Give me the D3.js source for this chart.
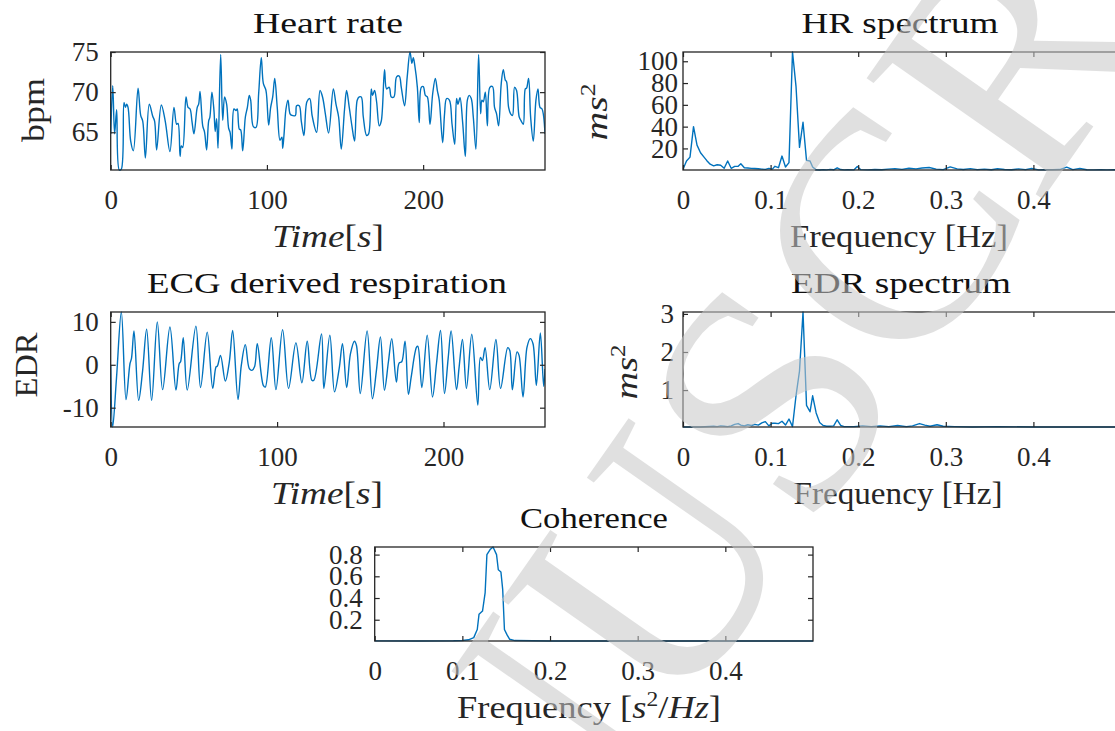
<!DOCTYPE html>
<html>
  <head>
    <meta charset="utf-8">
    <title>HR / EDR spectra</title>
    <script src="https://cdn.jsdelivr.net/npm/d3@7"></script>
    <style>
      body { margin: 0; background: #fff; }
      svg { display: block; font-family: "Liberation Serif", serif; }
      .tick text { font-size: 27px; fill: #262626; }
      .tick line { stroke: #262626; stroke-width: 1.2; }
    </style>
  </head>
  <body>
    <svg id="chart" width="1115" height="731"></svg>

    <script>
      // heart rate (bpm) against time (s)
      hrTime = [0, 1.3, 2.5, 3.8, 5.5, 6.8, 8.5, 9.4, 10.2, 11.1, 12.8, 14.5, 17.5, 19.2, 20.5, 22.2,
        24.7, 26.9, 28.1, 29.4, 32.4, 34.9, 37.9, 40.5, 42.2, 43.1, 44.4, 45.2, 46.1, 48.2, 49.5, 50.8,
        52.0, 53.3, 55.4, 56.3, 57.2, 58.9, 60.1, 61.4, 62.7, 63.5, 64.8, 66.1, 66.9, 67.8, 68.7, 70.4,
        71.7, 72.9, 74.2, 75.5, 76.4, 77.6, 78.9, 80.2, 81.0, 82.3, 83.2, 84.5, 86.2, 87.5, 88.7, 89.6,
        91.3, 93.0, 94.7, 96.4, 97.7, 99.4, 101.1, 102.4, 103.7, 105.0, 106.6, 108.4, 109.6, 110.1, 110.9,
        112.2, 113.5, 114.8, 116.0, 118.2, 119.0, 120.7, 122.0, 123.7, 125.6, 127.4, 129.0, 131.8,
        134.0, 135.6, 137.4, 139.5, 142.5, 144.2, 145.9, 147.6, 149.7, 151.0, 152.7, 154.4, 156.1, 157.8,
        159.1, 160.4, 161.7, 163.8, 165.1, 166.8, 167.6, 168.9, 170.2, 171.9, 173.2, 175.3, 176.6, 178.3,
        179.6, 181.3, 183.0, 184.7, 186.0, 188.1, 189.8, 191.6, 192.8, 193.7, 194.6, 196.3, 197.5, 198.8,
        200.1, 201.4, 202.7, 204.4, 206.1, 207.8, 209.1, 210.3, 212.5, 213.7, 215.0, 216.8, 218.5, 220.2,
        221.4, 222.3, 223.6, 225.3, 227.0, 228.3, 229.5, 230.8, 232.1, 233.8, 235.5, 236.8, 237.6, 238.5,
        239.8, 241.1, 242.7, 244.4, 245.7, 247.0, 248.3, 250.0, 251.3, 252.6, 253.4, 254.7, 256.0, 257.2,
        258.5, 259.8, 261.5, 262.8, 264.1, 265.4, 266.2, 267.5, 268.8, 270.5, 272.2, 273.5, 274.8, 276.1, 278.0];
      hrBpm = [64.8, 70.8, 64.8, 67.8, 60.3, 60.4, 68.7, 68.1, 68.5, 68.1, 63.9, 62.7, 70.5, 67.1, 66.4, 61.8,
        68.5, 67.0, 66.4, 62.8, 68.4, 66.4, 62.6, 68.1, 66.0, 66.1, 62.0, 63.3, 63.1, 69.4, 68.1, 67.9,
        66.4, 64.8, 68.1, 68.5, 70.1, 65.8, 65.0, 62.8, 66.4, 66.9, 70.0, 67.7, 65.1, 66.7, 63.0, 74.7,
        66.5, 69.4, 68.5, 65.5, 65.0, 62.9, 67.9, 67.7, 67.9, 65.4, 65.3, 62.7, 66.9, 68.1, 69.6, 69.0,
        65.7, 65.6, 69.8, 74.3, 71.1, 70.2, 65.9, 68.1, 69.4, 71.7, 68.1, 64.0, 64.4, 63.0, 64.6,
        67.9, 69.0, 67.3, 67.1, 67.1, 68.3, 68.3, 66.4, 64.6, 68.8, 69.2, 67.0, 65.0,
        70.2, 69.4, 67.3, 64.9, 70.4, 68.5, 66.9, 62.9, 67.9, 70.2, 68.1, 65.8, 63.9, 69.0,
        69.4, 69.4, 66.9, 64.6, 64.8, 70.4, 69.6, 70.2, 68.8, 65.8, 66.4, 72.8, 70.4, 70.6,
        69.4, 69.4, 71.9, 72.0, 70.6, 68.3, 71.9, 75.0, 73.6, 74.3, 73.4, 70.6, 66.2, 70.6,
        70.7, 69.6, 69.4, 66.0, 69.8, 71.7, 70.2, 69.0, 63.7, 67.3, 69.2, 69.0, 66.0, 63.5,
        69.2, 68.5, 69.3, 66.2, 62.0, 69.0, 69.6, 69.2, 66.9, 62.9, 74.7, 67.3, 69.0, 68.8,
        70.0, 65.8, 70.6, 70.7, 68.1, 67.3, 65.8, 71.1, 72.8, 71.5, 71.3, 68.1, 67.3, 67.1,
        70.6, 70.2, 66.9, 66.4, 66.0, 70.4, 70.5, 71.7, 66.9, 63.9, 69.0, 70.4, 68.1, 67.9, 64.8];
      hrTicksX = [0, 100, 200];
      hrTicksY = [65, 70, 75];

      // ECG derived respiration against time (s)
      edrTime = [0, 1.2, 3.5, 6.4, 9.2, 11.6, 12.5, 14.0, 16.8, 19.2, 21.6, 24.6, 28.0, 31.2, 35.6, 39.2,
        41.2, 42.0, 43.6, 46.0, 51.2, 54.0, 58.0, 61.3, 63.3, 64.1, 66.0, 68.9, 71.3, 73.3, 76.5, 78.5,
        80.9, 83.3, 84.9, 86.5, 88.1, 91.7, 92.9, 96.5, 99.3, 103.3, 106.9, 111.3, 114.9, 118.1, 120.9,
        122.1, 126.7, 128.1, 131.7, 134.5, 137.3, 139.3, 141.8, 144.1, 146.5, 147.7, 150.0, 154.1, 157.3,
        159.7, 162.1, 164.5, 166.9, 168.9, 171.7, 173.3, 174.9, 176.9, 178.9, 180.6, 183.8, 184.6, 187.0,
        190.2, 193.4, 195.8, 198.2, 200.6, 202.8, 204.6, 207.8, 209.4, 211.4, 213.8, 217.0, 220.6, 222.2,
        223.4, 225.0, 227.8, 231.5, 234.3, 238.6, 239.8, 241.4, 244.2, 245.4, 247.8, 250.2, 252.2, 253.8,
        255.8, 258.2, 260.2, 261.0];
      edrValue = [-0.1, -14.5, -3.0, 12.3, -8.1, 0.3, 1.5, 7.9, -8.3, -1.3, 8.3, -8.3, 10.0, -5.8, 8.8, -5.9,
        0.3, 0.7, 6.3, -5.9, 9.0, -5.3, 7.6, -5.5, -0.5, -0.3, 2.2, -3.8, 0.7, 8.0, -8.1, -0.1,
        4.7, -0.9, -1.3, -0.4, 4.9, -4.8, -5.2, 6.3, -5.8, 8.2, -5.5, 5.1, -4.2, 5.5, -3.6,
        -3.6, 7.2, -5.5, 6.9, -6.3, -0.9, 4.9, -5.3, 2.6, 5.5, 4.5, -6.7, 7.9, -7.9,
        -1.3, 6.5, -5.9, 0.7, 6.1, -4.0, 0.4, 0.7, 5.5, -6.9, -2.8, 4.1, 4.3, -5.3,
        6.9, -7.5, 0.3, 8.0, -6.7, 1.5, 7.9, -5.8, -0.5, 5.9, -5.5, 7.1, -9.4, 1.7,
        1.0, 4.0, -5.8, 5.9, -5.5, 4.0, 3.4, -5.8, 3.0, 2.2, -7.5, 4.1, 6.1, 4.9,
        -4.8, 7.4, -5.0, -1.0];
      edrTicksX = [0, 100, 200];
      edrTicksY = [-10, 0, 10];

      // HR spectrum (ms^2) against frequency (Hz)
      hrSpecFreq = [0, 0.004, 0.008, 0.012, 0.016, 0.020, 0.024, 0.027, 0.031, 0.035, 0.039, 0.043, 0.047,
        0.051, 0.055, 0.059, 0.063, 0.066, 0.070, 0.074, 0.078, 0.082, 0.086, 0.090, 0.094, 0.098, 0.102,
        0.105, 0.109, 0.113, 0.117, 0.121, 0.125, 0.129, 0.133, 0.137, 0.141, 0.145, 0.148, 0.152, 0.156,
        0.160, 0.164, 0.168, 0.172, 0.176, 0.180, 0.184, 0.188, 0.195, 0.199, 0.203, 0.211, 0.219, 0.227,
        0.234, 0.242, 0.250, 0.258, 0.266, 0.273, 0.281, 0.289, 0.297, 0.305, 0.313, 0.320, 0.328, 0.336,
        0.344, 0.352, 0.359, 0.367, 0.375, 0.383, 0.391, 0.398, 0.406, 0.414, 0.422, 0.430, 0.438, 0.445,
        0.453, 0.461, 0.469, 0.477, 0.484, 0.492, 0.5];
      hrSpecPower = [0.8, 8.5, 12, 40, 23, 16, 12, 9, 5.5, 4, 5, 4.5, 1.8,
        8.5, 1.8, 3.5, 3.6, 6, 2.3, 2, 1.7, 1.6, 1.4, 1.0, 0.8, 1.7, 1.0,
        3.6, 2.3, 13, 3, 7, 108.5, 77, 21, 44, 9, 8.5, 3, 0.3, 0.2,
        0.5, 0.3, 0.8, 0.4, 2.2, 0.6, 0.3, 0.5, 0.3, 3.5, 0.5, 0.3, 0.6, 0.4,
        1.0, 1.5, 0.8, 1.8, 1.2, 2.0, 2.5, 1.0, 0.5, 3.0, 1.2, 0.6, 1.5, 0.5,
        1.0, 0.4, 1.4, 0.6, 0.4, 1.2, 0.5, 1.6, 0.3, 0.5, 0.4, 0.6, 2.8, 0.5,
        1.6, 0.4, 0.3, 0.5, 0.3, 0.4, 0.3];
      hrSpecTicksY = [20, 40, 60, 80, 100];

      // EDR spectrum (ms^2) against frequency (Hz)
      edrSpecFreq = [0, 0.020, 0.035, 0.039, 0.043, 0.047, 0.051, 0.055, 0.059, 0.063, 0.066, 0.070, 0.074,
        0.078, 0.082, 0.086, 0.090, 0.094, 0.098, 0.102, 0.105, 0.109, 0.113, 0.117, 0.121, 0.125, 0.129,
        0.133, 0.137, 0.141, 0.145, 0.148, 0.152, 0.156, 0.160, 0.164, 0.168, 0.172, 0.176, 0.180, 0.184,
        0.195, 0.205, 0.215, 0.225, 0.235, 0.245, 0.255, 0.262, 0.270, 0.276, 0.282, 0.290, 0.297, 0.310,
        0.330, 0.360, 0.400, 0.450, 0.5];
      edrSpecPower = [0.03, 0.03, 0.05, 0.04, 0.06, 0.05, 0.04, 0.06, 0.10, 0.12, 0.08, 0.06, 0.09,
        0.07, 0.10, 0.08, 0.14, 0.17, 0.06, 0.13, 0.13, 0.12, 0.18, 0.08, 0.24, 0.04, 0.85,
        1.5, 3.05, 0.6, 0.43, 0.85, 0.4, 0.15, 0.07, 0.05, 0.05, 0.06, 0.22, 0.07, 0.04,
        0.04, 0.06, 0.04, 0.06, 0.04, 0.07, 0.04, 0.06, 0.12, 0.08, 0.05, 0.09, 0.05, 0.04,
        0.03, 0.04, 0.03, 0.03, 0.03];
      edrSpecTicksY = [1, 2, 3];

      // coherence against frequency
      cohFreq = [0, 0.05, 0.09, 0.100, 0.107, 0.113, 0.117, 0.119, 0.123, 0.126, 0.128, 0.132, 0.135,
        0.139, 0.141, 0.144, 0.146, 0.148, 0.151, 0.154, 0.160, 0.200, 0.300, 0.400, 0.5];
      cohValue = [0.005, 0.004, 0.006, 0.009, 0.015, 0.035, 0.11, 0.25, 0.28, 0.45, 0.80, 0.85, 0.87,
        0.80, 0.66, 0.64, 0.48, 0.11, 0.06, 0.02, 0.008, 0.004, 0.004, 0.004, 0.004];
      cohTicksY = [0.2, 0.4, 0.6, 0.8];

      freqTicks = [0, 0.1, 0.2, 0.3, 0.4];

      // elements
      svg = d3.select("#chart");
      lineColour = "#0072bd";
      axisColour = "#262626";

      function zip(xs, ys) {
        return xs.map(function(d, i) { return [d, ys[i]]; });
      }

      // plain number labels, hyphen for negatives (as MATLAB prints them)
      function plain(d) { return String(d); }

      function drawPanel(o) {
        let g = svg.append("g");
        let x = d3.scaleLinear().domain(o.xDomain).range([o.left, o.right]);
        let y = d3.scaleLinear().domain(o.yDomain).range([o.bottom, o.top]);
        let tick = o.tick || 5;

        g.append("clipPath").attr("id", o.id + "Clip")
          .append("rect")
            .attr("x", o.left).attr("y", o.top - 1)
            .attr("width", o.right - o.left).attr("height", o.bottom - o.top + 2);

        g.append("path")
          .datum(o.data)
          .attr("clip-path", "url(#" + o.id + "Clip)")
          .attr("fill", "none")
          .attr("stroke", lineColour)
          .attr("stroke-width", 1.4)
          .attr("stroke-linejoin", "round")
          .attr("d", d3.line()
            .x(function(d) { return x(d[0]); })
            .y(function(d) { return y(d[1]); })
            .curve(o.smooth ? d3.curveCatmullRom.alpha(0.5) : d3.curveLinear));

        // axes, ticks pointing inwards
        let bottom = g.append("g")
          .attr("transform", "translate(0," + o.bottom + ")")
          .call(d3.axisBottom(x).tickValues(o.xTicks).tickFormat(plain)
            .tickSizeInner(-tick).tickSizeOuter(0).tickPadding(20));
        let top = g.append("g")
          .attr("transform", "translate(0," + o.top + ")")
          .call(d3.axisTop(x).tickValues(o.xTicks).tickSizeInner(-tick).tickSizeOuter(0).tickFormat(""));
        let left = g.append("g")
          .attr("transform", "translate(" + o.left + ",0)")
          .call(d3.axisLeft(y).tickValues(o.yTicks).tickFormat(plain)
            .tickSizeInner(-tick).tickSizeOuter(0).tickPadding(o.yPad));
        let right = g.append("g")
          .attr("transform", "translate(" + o.right + ",0)")
          .call(d3.axisRight(y).tickValues(o.yTicks).tickSizeInner(-tick).tickSizeOuter(0).tickFormat(""));
        [bottom, top, left, right].forEach(function(a) {
          a.select(".domain").remove();
          a.attr("font-family", null).attr("font-size", null);
        });

        g.append("rect")
          .attr("x", o.left).attr("y", o.top)
          .attr("width", o.right - o.left).attr("height", o.bottom - o.top)
          .attr("fill", "none")
          .attr("stroke", axisColour)
          .attr("stroke-width", 1.3);

        // title
        g.append("text")
          .attr("x", o.titleX)
          .attr("y", o.top - 19)
          .attr("text-anchor", "middle")
          .attr("font-size", 29)
          .attr("fill", "#111")
          .attr("textLength", o.titleWidth)
          .attr("lengthAdjust", "spacingAndGlyphs")
          .text(o.title);

        // x label
        let xl = g.append("text")
          .attr("x", o.xLabelX)
          .attr("y", o.bottom + 77)
          .attr("text-anchor", "middle")
          .attr("font-size", 31)
          .attr("fill", axisColour)
          .attr("textLength", o.xLabelWidth)
          .attr("lengthAdjust", "spacingAndGlyphs");
        o.xLabel.forEach(function(part) {
          xl.append("tspan")
            .attr("font-style", part.italic ? "italic" : null)
            .attr("font-size", part.sup ? 20 : null)
            .attr("dy", part.sup ? -12 : (part.after ? 12 : null))
            .text(part.t);
        });

        // y label, rotated
        if (!o.yLabel.length) return;
        let yl = g.append("text")
          .attr("transform", "translate(" + o.yLabelX + "," + o.yLabelY + ") rotate(-90)")
          .attr("text-anchor", "middle")
          .attr("font-size", 31)
          .attr("fill", axisColour)
          .attr("textLength", o.yLabelWidth)
          .attr("lengthAdjust", "spacingAndGlyphs");
        o.yLabel.forEach(function(part) {
          yl.append("tspan")
            .attr("font-style", part.italic ? "italic" : null)
            .attr("font-size", part.sup ? 20 : null)
            .attr("dy", part.sup ? -12 : null)
            .text(part.t);
        });
      }

      timeLabel = [{ t: "Time", italic: true }, { t: "[" }, { t: "s", italic: true }, { t: "]" }];
      hzLabel = [{ t: "Frequency [Hz]" }];
      msLabel = [{ t: "ms", italic: true }, { t: "2", sup: true }];

      drawPanel({
        id: "hr", left: 110.7, right: 545, top: 52, bottom: 170,
        data: zip(hrTime, hrBpm), smooth: true,
        xDomain: [0, d3.max(hrTime)], yDomain: d3.extent(hrBpm),
        xTicks: hrTicksX, yTicks: hrTicksY, yPad: 12,
        title: "Heart rate", titleX: 328, titleWidth: 150,
        xLabel: timeLabel, xLabelX: 328, xLabelWidth: 112,
        yLabel: [{ t: "bpm" }], yLabelX: 44, yLabelY: 110, yLabelWidth: 64
      });

      drawPanel({
        id: "hrSpec", left: 683, right: 1121, top: 52, bottom: 170,
        data: zip(hrSpecFreq, hrSpecPower),
        xDomain: [0, 0.5], yDomain: d3.extent(hrSpecPower),
        xTicks: freqTicks, yTicks: hrSpecTicksY, yPad: 5,
        title: "HR spectrum", titleX: 900, titleWidth: 197,
        xLabel: hzLabel, xLabelX: 899, xLabelWidth: 218,
        yLabel: msLabel, yLabelX: 607, yLabelY: 112, yLabelWidth: 57
      });

      drawPanel({
        id: "edr", left: 110.7, right: 545, top: 312, bottom: 427,
        data: zip(edrTime, edrValue), smooth: true,
        xDomain: [0, d3.max(edrTime)], yDomain: d3.extent(edrValue),
        xTicks: edrTicksX, yTicks: edrTicksY, yPad: 12,
        title: "ECG derived respiration", titleX: 327, titleWidth: 360,
        xLabel: timeLabel, xLabelX: 327, xLabelWidth: 112,
        yLabel: [{ t: "EDR" }], yLabelX: 37, yLabelY: 365, yLabelWidth: 65
      });

      drawPanel({
        id: "edrSpec", left: 683, right: 1121, top: 312, bottom: 427,
        data: zip(edrSpecFreq, edrSpecPower),
        xDomain: [0, 0.5], yDomain: d3.extent(edrSpecPower),
        xTicks: freqTicks, yTicks: edrSpecTicksY, yPad: 9,
        title: "EDR spectrum", titleX: 901, titleWidth: 220,
        xLabel: hzLabel, xLabelX: 898, xLabelWidth: 209,
        yLabel: msLabel, yLabelX: 637, yLabelY: 372, yLabelWidth: 55
      });

      drawPanel({
        id: "coh", left: 374.7, right: 813, top: 547, bottom: 641,
        data: zip(cohFreq, cohValue),
        xDomain: [0, 0.5], yDomain: d3.extent(cohValue),
        xTicks: freqTicks, yTicks: cohTicksY, yPad: 12,
        title: "Coherence", titleX: 594, titleWidth: 148,
        xLabel: [{ t: "Frequency [" }, { t: "s", italic: true }, { t: "2", sup: true }, { t: "/", after: true }, { t: "Hz", italic: true }, { t: "]" }],
        xLabelX: 589, xLabelWidth: 264,
        yLabel: []
      });

      // manuscript watermark
      svg.append("text")
        .attr("transform", "translate(236,1351) rotate(-55)")
        .attr("font-size", 326)
        .attr("fill", "#c8c8c8")
        .attr("opacity", 0.55)
        .text("MANUSCRIPT");
    </script>
  </body>
</html>
